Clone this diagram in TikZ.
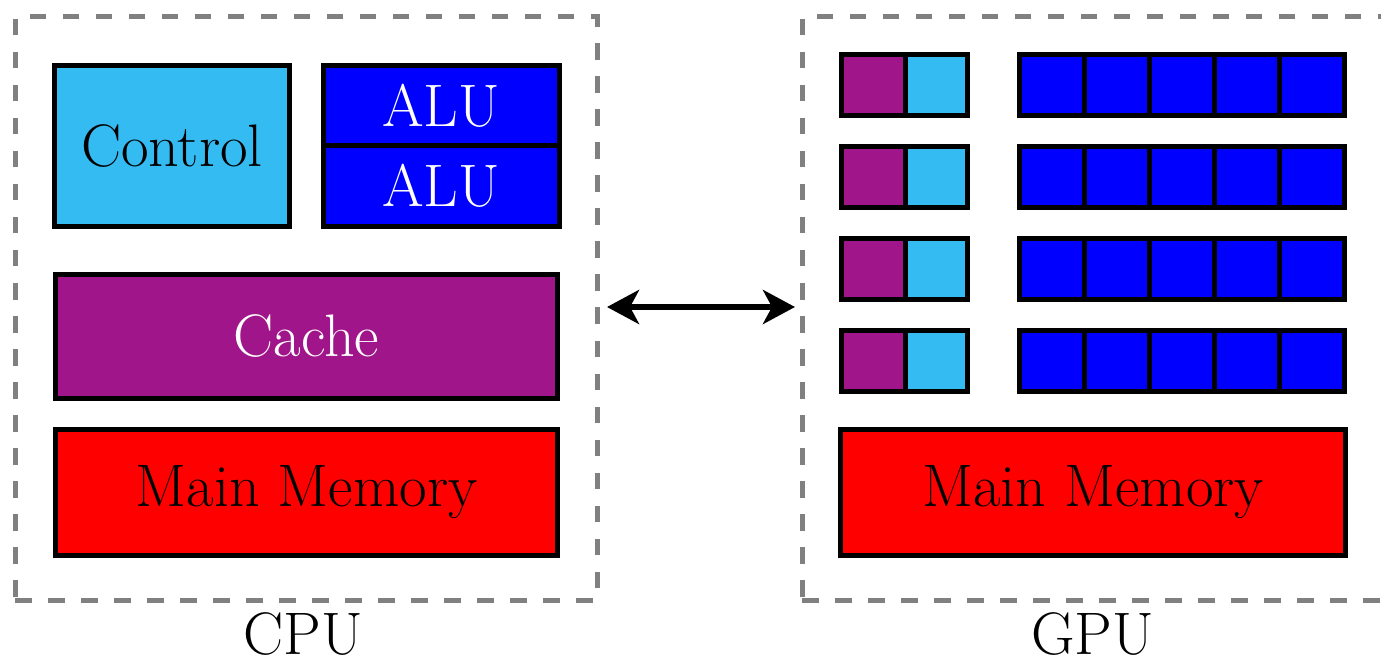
\documentclass[tikz,border=0pt]{standalone}
\usetikzlibrary{arrows.meta}
\definecolor{ctrlc}{RGB}{51,187,242}
\definecolor{cachec}{RGB}{160,22,138}
\tikzset{
  unit/.style={draw=black, line width=5pt, rectangle, inner sep=0pt, outer sep=0pt,
    font=\fontsize{60}{64}\selectfont},
  dashbox/.style={draw=gray, line width=5pt, dash pattern=on 16.5pt off 16.5pt,
    rectangle, inner sep=0pt, outer sep=0pt, minimum width=582pt, minimum height=583pt},
  lbl/.style={font=\fontsize{60}{64}\selectfont, inner sep=0pt},
  link/.style={line width=6pt, {Stealth[length=32pt,width=34pt,inset=9pt]}-{Stealth[length=32pt,width=34pt,inset=9pt]}},
  sq/.style={unit, minimum height=61pt}
}
\begin{document}
\begin{tikzpicture}[x=1pt,y=-1pt]
\useasboundingbox (0,0) rectangle (1381,660);
% containers
\node[dashbox] (cpu) at (306,308.5) {};
\node[dashbox] (gpu) at (1093,308.5) {};
\node[lbl, anchor=base] (cpulbl) at (303,654) {CPU};
\node[lbl, anchor=base] (gpulbl) at (1092.5,654) {GPU};
% CPU
\node[unit, fill=ctrlc, minimum width=235pt, minimum height=161pt] (ctrl) at (172,146) {Control};
\node[unit, fill=blue, text=white, minimum width=236pt, minimum height=80.5pt] (alu1) at (441,105.75) {ALU};
\node[unit, fill=blue, text=white, minimum width=236pt, minimum height=80.5pt] (alu2) at (441,186.25) {ALU};
\node[unit, fill=cachec, text=white, minimum width=502pt, minimum height=124pt] (cache) at (306.5,336.5) {Cache};
\node[unit, fill=red, minimum width=502pt, minimum height=126pt] (cmem) at (306.5,492.5) {Main Memory};
% GPU
\foreach \r/\y in {1/85,2/177,3/269,4/361}{
  \node[sq, fill=cachec, minimum width=64pt] (p\r) at (873,\y) {};
  \node[sq, fill=ctrlc, minimum width=62.5pt] (c\r) at (936.25,\y) {};
  \foreach \i/\x in {1/1052,2/1117,3/1182,4/1247,5/1312}{
    \node[sq, fill=blue, minimum width=65pt] (b\r-\i) at (\x,\y) {};
  }
}
\node[unit, fill=red, minimum width=505pt, minimum height=126pt] (gmem) at (1093,492.5) {Main Memory};
% link
\draw[link, shorten <=10pt, shorten >=7pt] ([yshift=1.5pt]cpu.east) -- ([yshift=1.5pt]gpu.west);
\end{tikzpicture}
\end{document}
